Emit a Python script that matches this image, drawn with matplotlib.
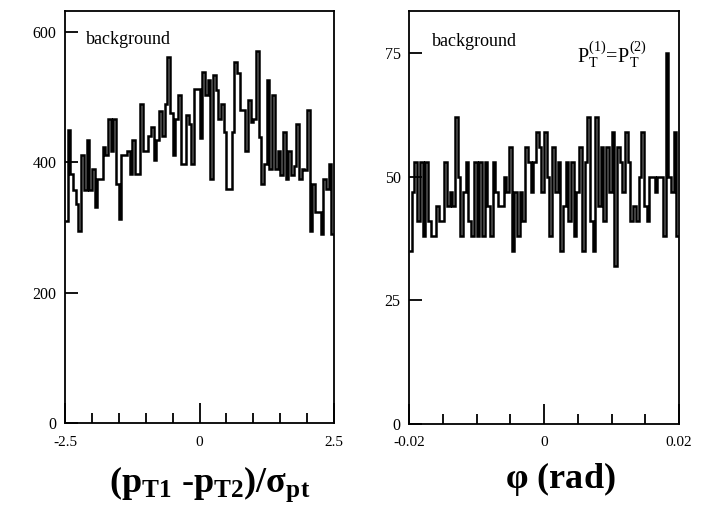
import numpy as np
import matplotlib.pyplot as plt

plt.rcParams['font.family'] = ['Liberation Serif', 'DejaVu Serif']
plt.rcParams['mathtext.fontset'] = 'custom'
plt.rcParams['mathtext.rm'] = 'Liberation Serif'
plt.rcParams['mathtext.it'] = 'Liberation Serif'
plt.rcParams['mathtext.bf'] = 'Liberation Serif:bold'

# ---------------- histogram contents ----------------
# left: (pT1 - pT2)/sigma_pt, 100 bins from -2.5 to 2.5
dpt_edges = np.linspace(-2.5, 2.5, 101)
dpt_counts = [
    310, 449, 382, 357, 336, 295, 411, 357, 434, 357,
    390, 331, 375, 375, 424, 411, 467, 418, 467, 367,
    313, 411, 411, 418, 382, 434, 382, 382, 490, 418,
    418, 440, 454, 403, 434, 479, 440, 490, 562, 475,
    411, 467, 503, 398, 398, 472, 459, 398, 512, 512,
    437, 539, 503, 526, 375, 534, 511, 467, 490, 447,
    359, 359, 447, 554, 537, 480, 480, 418, 495, 462,
    467, 570, 439, 367, 398, 526, 390, 503, 390, 418,
    380, 447, 375, 418, 380, 395, 459, 375, 390, 388,
    480, 295, 367, 324, 324, 290, 375, 359, 398, 290,
]

# right: phi (rad), 100 bins from -0.02 to 0.02
phi_edges = np.linspace(-0.02, 0.02, 101)
phi_counts = [
    35, 47, 53, 41, 53, 38, 53, 41, 38, 38,
    44, 41, 41, 53, 44, 47, 44, 62, 50, 38,
    47, 53, 41, 38, 53, 38, 53, 38, 53, 44,
    38, 53, 47, 44, 44, 50, 47, 56, 35, 47,
    38, 47, 41, 56, 53, 47, 53, 59, 56, 47,
    59, 50, 38, 56, 47, 53, 35, 44, 53, 41,
    53, 38, 47, 56, 35, 53, 62, 41, 35, 62,
    44, 56, 41, 56, 47, 59, 32, 56, 53, 47,
    59, 53, 41, 44, 41, 50, 59, 44, 41, 50,
    50, 47, 50, 50, 38, 75, 50, 47, 59, 38,
]

fig = plt.figure(figsize=(7.08, 5.26), dpi=100)
ax1 = fig.add_axes([65 / 708, 1 - 423 / 526, 269 / 708, 412 / 526])
ax2 = fig.add_axes([409 / 708, 1 - 424 / 526, 270 / 708, 413 / 526])


def style(ax, xlim, ylim, xmaj, xmin, xlabels, yticks):
    ax.set_xlim(*xlim)
    ax.set_ylim(*ylim)
    for s in ax.spines.values():
        s.set_linewidth(1.3)
    ax.set_xticks(xmaj)
    ax.set_xticklabels(xlabels)
    ax.set_xticks(xmin, minor=True)
    ax.set_yticks(yticks)
    ax.set_yticklabels([str(t) for t in yticks])
    ax.tick_params(axis='x', which='major', direction='in', length=14.5,
                   width=1.3, labelsize=11, pad=9)
    ax.tick_params(axis='x', which='minor', direction='in', length=7.5,
                   width=1.3)
    ax.tick_params(axis='y', which='major', direction='in', length=9,
                   width=1.3, labelsize=11.5, pad=6)


# ---------------- left panel ----------------
ax1.stairs(dpt_counts, dpt_edges, baseline=None, color='black', lw=1.8)
style(ax1, (-2.5, 2.5), (0, 632), [-2.5, 0, 2.5],
      [-2, -1.5, -1, -0.5, 0.5, 1, 1.5, 2], ['-2.5', '0', '2.5'],
      [0, 200, 400, 600])
ax1.text(0.078, 0.93, 'background', transform=ax1.transAxes,
         fontsize=13, va='center', ha='left')

# ---------------- right panel ----------------
ax2.stairs(phi_counts, phi_edges, baseline=None, color='black', lw=1.8)
style(ax2, (-0.02, 0.02), (0, 83.5), [-0.02, 0, 0.02],
      [-0.015, -0.01, -0.005, 0.005, 0.01, 0.015], ['-0.02', '0', '0.02'],
      [0, 25, 50, 75])
ax2.text(0.085, 0.927, 'background', transform=ax2.transAxes,
         fontsize=13, va='center', ha='left')
ax2.text(0.622, 0.893, r'$\mathrm{P_T^{(1)}\!=\!P_T^{(2)}}$',
         transform=ax2.transAxes, fontsize=14.5, va='center', ha='left')

# ---------------- axis titles ----------------
fig.text(210 / 708, 1 - 484 / 526, r'$\mathbf{(p_{T1}\ \text{-}p_{T2})/σ_{pt}}$',
         fontsize=26, ha='center', va='center')
fig.text(560 / 708, 1 - 479 / 526, r'$\mathbf{φ\ (rad)}$',
         fontsize=26, ha='center', va='center')

fig.savefig('out.png', dpi=100)
